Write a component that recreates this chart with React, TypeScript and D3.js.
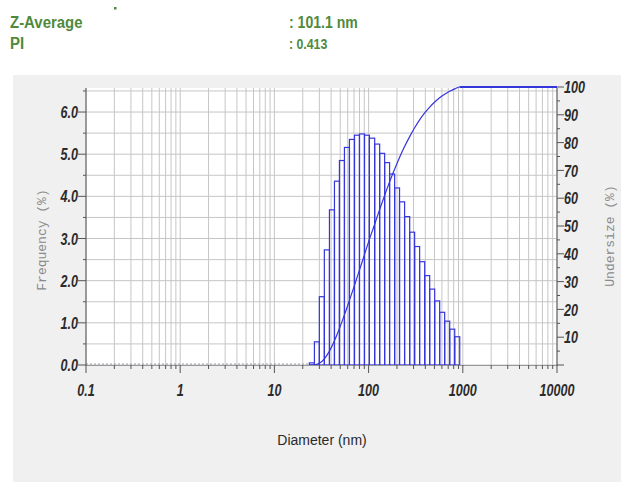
import React from "react";
import * as d3 from "d3";

// Bin edges (nm)
const binEdges = [23.5, 26.6, 30.0, 33.9, 38.4, 43.4, 49.0, 55.4, 62.6, 70.8, 80.0, 90.4, 102, 116, 131, 148, 167, 189, 213, 241, 273, 308, 348, 394, 445, 503, 568, 642, 726, 821, 928];
// Frequency (%) per bin
const frequency = [0.05, 0.55, 1.62, 2.73, 3.68, 4.36, 4.85, 5.16, 5.35, 5.45, 5.48, 5.45, 5.38, 5.24, 5.02, 4.80, 4.53, 4.20, 3.87, 3.52, 3.15, 2.81, 2.45, 2.12, 1.80, 1.52, 1.25, 1.04, 0.85, 0.67];
// Undersize (%) curve points
const undersizeD = [23.5, 26.6, 30.0, 33.9, 38.4, 43.4, 49.0, 55.4, 62.6, 70.8, 80.0, 90.4, 102, 116, 131, 148, 167, 189, 213, 241, 273, 308, 348, 394, 445, 503, 568, 642, 726, 821, 928, 10000];
const undersizeV = [0, 0.05, 0.61, 2.24, 5.0, 8.72, 13.13, 18.03, 23.24, 28.65, 34.16, 39.7, 45.2, 50.64, 55.94, 61.01, 65.86, 70.44, 74.68, 78.6, 82.15, 85.34, 88.17, 90.65, 92.79, 94.61, 96.15, 97.41, 98.46, 99.32, 100, 100];

const xTickLabels = ["0.1", "1", "10", "100", "1000", "10000"];
const xTickValues = [0.1, 1, 10, 100, 1000, 10000];
const leftTicks = [0, 1, 2, 3, 4, 5, 6];
const rightTicks = [10, 20, 30, 40, 50, 60, 70, 80, 90, 100];

const BLUE = "#3535dc";
const GREEN = "#4f8a3c";
const TICKFONT = "'Liberation Sans', Arial, sans-serif";

function CText(props: { x: number; y: number; anchor: string; children: React.ReactNode; sx?: number }) {
  const sx = props.sx ?? 0.74;
  return (
    <g transform={`translate(${props.x},${props.y}) scale(${sx},1)`}>
      <text x={0} y={0} dy="0.36em" textAnchor={props.anchor}>
        {props.children}
      </text>
    </g>
  );
}

export default function App() {
  const W = 621, H = 482;
  const x = d3.scaleLog().domain([0.1, 10000]).range([86, 557]);
  const yL = d3.scaleLinear().domain([0, 6.57]).range([365, 88]);
  const yR = d3.scaleLinear().domain([0, 100]).range([365, 87]);

  const minorX: number[] = [];
  for (let e = -1; e < 4; e++) {
    for (let m = 1; m <= 9; m++) minorX.push(m * Math.pow(10, e));
  }
  minorX.push(10000);
  const hGrid = d3.range(0, 6.51, 0.5);
  const minorL = d3.range(0.5, 6.6, 1);
  const minorR = d3.range(5, 100, 10);

  const line = d3
    .line<number>()
    .x((_, i) => x(undersizeD[i]))
    .y((v) => yR(v))
    .curve(d3.curveMonotoneX);

  return (
    <svg width={W} height={H} style={{ position: "absolute", left: 0, top: 0, display: "block" }}>
      <rect x={0} y={0} width={W} height={H} fill="#ffffff" />
      <rect x={13} y={75} width={W - 13} height={H - 75} fill="#f0f0f0" />
      {/* header */}
      <rect x={114} y={7} width={2.5} height={2.5} fill={GREEN} />
      <g fill={GREEN} fontFamily={TICKFONT} fontWeight="bold">
        <g transform="translate(10,28) scale(0.88,1)"><text fontSize={17}>Z-Average</text></g>
        <g transform="translate(10,49) scale(0.88,1)"><text fontSize={17}>PI</text></g>
        <g transform="translate(289,28) scale(0.88,1)"><text fontSize={16}>: 101.1 nm</text></g>
        <g transform="translate(289,49) scale(0.88,1)"><text fontSize={14}>: 0.413</text></g>
      </g>
      {/* plot area */}
      <rect x={86} y={88} width={471} height={277} fill="#ffffff" />
      <g stroke="#c6c6c6" strokeWidth={1}>
        {minorX.map((v, i) => (
          <line key={"vx" + i} x1={x(v)} x2={x(v)} y1={88} y2={365} />
        ))}
        {hGrid.map((v, i) => (
          <line key={"hg" + i} x1={86} x2={557} y1={yL(v)} y2={yL(v)} />
        ))}
      </g>
      {/* baseline dotted */}
      <line x1={86} x2={x(23.5)} y1={364} y2={364} stroke="#9a9aa8" strokeWidth={1} strokeDasharray="2,2" />
      {/* bars */}
      <g fill="none" stroke={BLUE} strokeWidth={1.2}>
        {frequency.map((f, i) => {
          const x0 = x(binEdges[i]);
          const x1 = x(binEdges[i + 1]);
          return <rect key={"b" + i} x={x0} y={yL(f)} width={x1 - x0} height={yL(0) - yL(f)} />;
        })}
      </g>
      {/* cumulative */}
      <path d={line(undersizeV) || ""} fill="none" stroke={BLUE} strokeWidth={1.2} />
      <line x1={x(928)} x2={x(10000)} y1={yR(100)} y2={yR(100)} stroke={BLUE} strokeWidth={2} />
      {/* axes */}
      <g stroke="#555" strokeWidth={1}>
        <line x1={86} x2={86} y1={88} y2={366} />
        <line x1={557} x2={557} y1={88} y2={366} />
        <line x1={86} x2={557} y1={365.5} y2={365.5} stroke="#999" />
        {leftTicks.map((t) => (
          <line key={"lt" + t} x1={78} x2={86} y1={yL(t)} y2={yL(t)} />
        ))}
        {minorL.map((t, i) => (
          <line key={"lm" + i} x1={83} x2={86} y1={yL(t)} y2={yL(t)} />
        ))}
        {rightTicks.map((t) => (
          <line key={"rt" + t} x1={557} x2={564} y1={yR(t)} y2={yR(t)} />
        ))}
        <line x1={557} x2={564} y1={yR(0)} y2={yR(0)} />
        {minorR.map((t, i) => (
          <line key={"rm" + i} x1={557} x2={560} y1={yR(t)} y2={yR(t)} />
        ))}
        {minorX.map((v, i) => {
          const major = xTickValues.includes(v);
          return <line key={"xt" + i} x1={x(v)} x2={x(v)} y1={365} y2={major ? 373 : 369} />;
        })}
      </g>
      <g fill="#2b2b2b" fontFamily={TICKFONT} fontWeight="bold" fontStyle="italic" fontSize={17}>
        {leftTicks.map((t) => (
          <CText key={"ll" + t} x={78} y={yL(t)} anchor="end">
            {t.toFixed(1)}
          </CText>
        ))}
        {rightTicks.map((t) => (
          <CText key={"rl" + t} x={564} y={yR(t)} anchor="start">
            {t}
          </CText>
        ))}
        {xTickValues.map((v, i) => (
          <CText key={"xl" + i} x={x(v)} y={390} anchor="middle">
            {xTickLabels[i]}
          </CText>
        ))}
      </g>
      <text x={322} y={445} textAnchor="middle" fontFamily="'Liberation Sans', Arial, sans-serif" fontSize={14} fill="#2a2a2a">
        Diameter (nm)
      </text>
      <text transform="translate(46,240) rotate(-90)" textAnchor="middle" fontFamily="'Liberation Mono', 'DejaVu Sans Mono', monospace" fontSize={13} fill="#8a8a8a">
        Frequency (%)
      </text>
      <text transform="translate(614,236) rotate(-90)" textAnchor="middle" fontFamily="'Liberation Mono', 'DejaVu Sans Mono', monospace" fontSize={13} fill="#8a8a8a">
        Undersize (%)
      </text>
    </svg>
  );
}
